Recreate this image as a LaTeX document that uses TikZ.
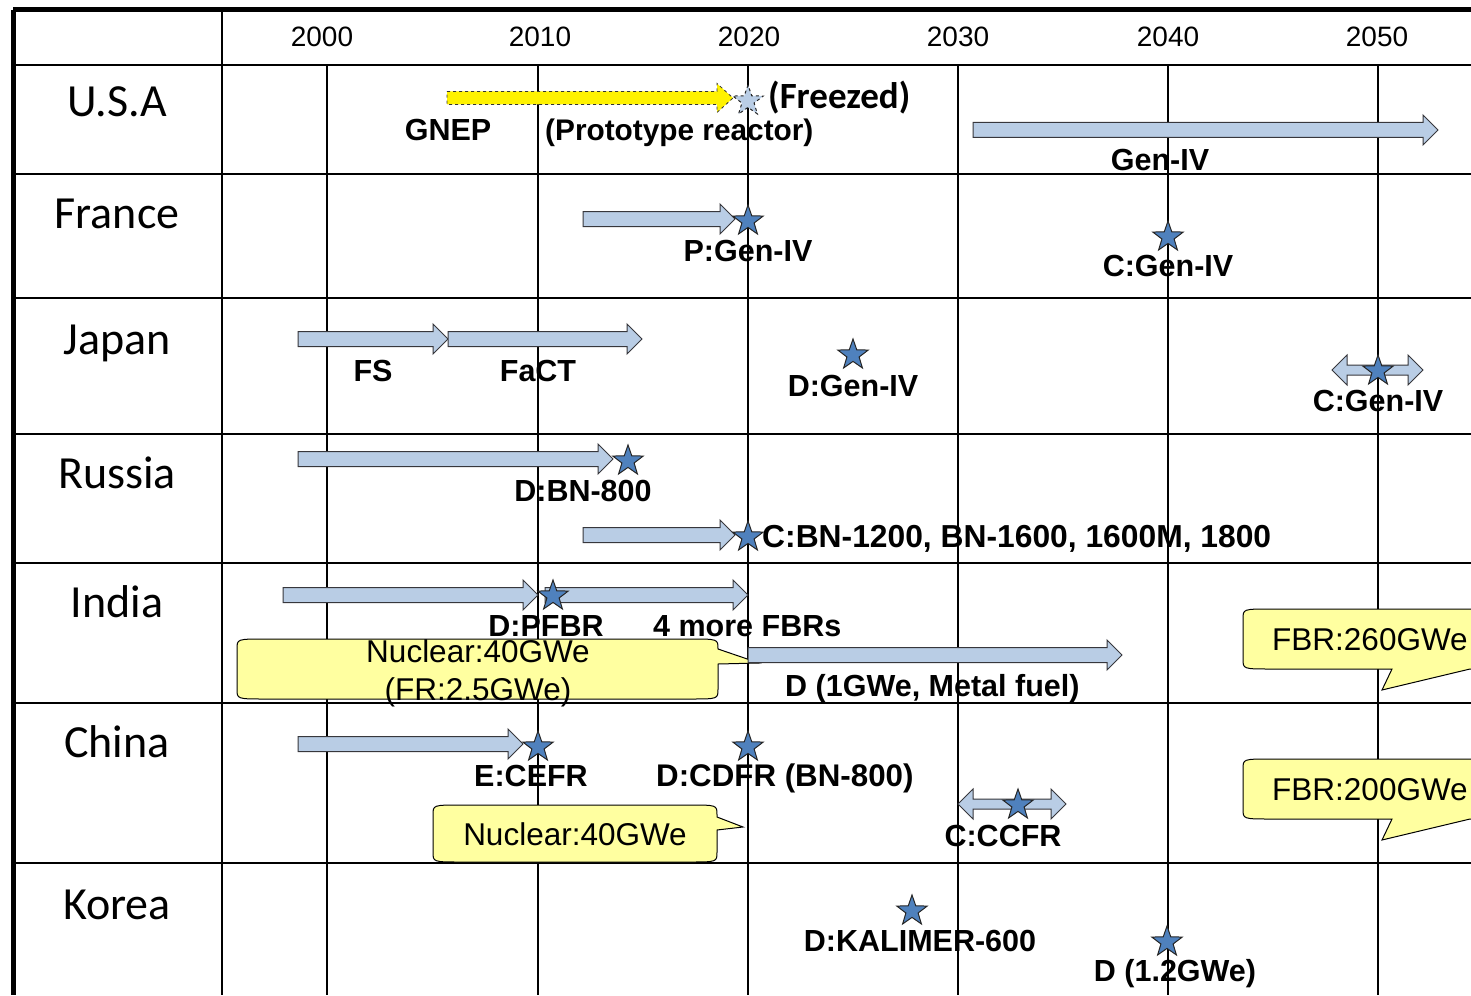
\documentclass[tikz,border=0pt]{standalone}
\usepackage{fontspec}
\setmainfont{Liberation Sans}
\newfontfamily\calibrifont{Carlito}
\usetikzlibrary{shapes.geometric}
\definecolor{arrfill}{RGB}{185,205,229}
\definecolor{arrline}{RGB}{55,55,60}
\definecolor{starfill}{RGB}{79,129,189}
\definecolor{callfill}{RGB}{255,255,160}
\newcommand{\tlarrow}[3]{%
  \filldraw[barrow] (#1,#3-7.5) -- (#2-15,#3-7.5) -- (#2-15,#3-15) -- (#2,#3) -- (#2-15,#3+15) -- (#2-15,#3+7.5) -- (#1,#3+7.5) -- cycle;}
\newcommand{\tldarrow}[3]{%
  \filldraw[barrow] (#1,#3) -- (#1+15,#3-15) -- (#1+15,#3-5) -- (#2-15,#3-5) -- (#2-15,#3-15) -- (#2,#3) -- (#2-15,#3+15) -- (#2-15,#3+5) -- (#1+15,#3+5) -- (#1+15,#3+15) -- cycle;}
\begin{document}
\begin{tikzpicture}[x=1pt,y=-1pt,
  grid/.style={line width=2pt, black},
  border/.style={line width=5pt, black},
  barrow/.style={fill=arrfill, draw=arrline, line width=1pt},
  cbox/.style={fill=callfill, draw=black, line width=1pt},
  st/.style={star, star points=5, star point ratio=2.5, minimum size=32pt, inner sep=0pt, fill=starfill, draw=black!85, line width=1pt},
  lbl/.style={font=\fontsize{30.5}{36}\selectfont\bfseries, inner sep=0pt, anchor=base, yshift=-11pt},
  lblw/.style={lbl, anchor=base west},
  cty/.style={font=\calibrifont\fontsize{46}{52}\selectfont, inner sep=0pt, anchor=base, yshift=-14.5pt},
  yr/.style={font=\fontsize{28}{32}\selectfont, inner sep=0pt, anchor=base, yshift=-10pt},
  ct/.style={font=\fontsize{31.5}{36}\selectfont, inner sep=0pt, anchor=base, yshift=-11pt},
  ctw/.style={ct, anchor=base west}]
\useasboundingbox (0,0) rectangle (1471,995);
\clip (0,0) rectangle (1471,995);
% grid
\foreach \yy in {65,174,298,434,563,703,863} \draw[grid] (13,\yy) -- (1471,\yy);
\draw[grid] (222,10) -- (222,995);
\foreach \xx in {327,538,748,958,1168,1378} \draw[grid] (\xx,65) -- (\xx,995);
\draw[border] (13,10) -- (1471,10);
\draw[border] (13,10) -- (13,995);
% years
\node[yr] (y2000) at (322,37) {2000};
\node[yr] (y2010) at (540,37) {2010};
\node[yr] (y2020) at (749,37) {2020};
\node[yr] (y2030) at (958,37) {2030};
\node[yr] (y2040) at (1168,37) {2040};
\node[yr] (y2050) at (1377,37) {2050};
% countries
\node[cty] (cUSA) at (117,102) {U.S.A};
\node[cty] (cFra) at (117,214) {France};
\node[cty] (cJap) at (117,340) {Japan};
\node[cty] (cRus) at (117,474) {Russia};
\node[cty] (cInd) at (117,603) {India};
\node[cty] (cChi) at (117,743) {China};
\node[cty] (cKor) at (117,905) {Korea};
% callouts
\draw[cbox] (265,639) -- (690,639) .. controls (718,639) .. (718,649) -- (759,663) -- (718,664) -- (718,689) .. controls (718,699) .. (690,699) -- (265,699) .. controls (237,699) .. (237,689) -- (237,649) .. controls (237,639) .. (265,639) -- cycle;
\draw[cbox] (461,805) -- (689,805) .. controls (717,805) .. (717,815) -- (717,817) -- (743,827) -- (717,830) -- (717,852) .. controls (717,862) .. (689,862) -- (461,862) .. controls (433,862) .. (433,852) -- (433,815) .. controls (433,805) .. (461,805) -- cycle;
\draw[cbox] (1271,609) -- (1500,609) -- (1500,669) -- (1470,669) -- (1382,690) -- (1392,669) -- (1271,669) .. controls (1243,669) .. (1243,659) -- (1243,619) .. controls (1243,609) .. (1271,609) -- cycle;
\draw[cbox] (1271,759) -- (1500,759) -- (1500,819) -- (1470,819) -- (1382,840) -- (1392,819) -- (1271,819) .. controls (1243,819) .. (1243,809) -- (1243,769) .. controls (1243,759) .. (1271,759) -- cycle;
% arrows
\filldraw[fill=yellow, draw=black!80, dashed, line width=0.8pt] (447,98-6.5) -- (717,98-6.5) -- (717,98-14.5) -- (733,98) -- (717,98+14.5) -- (717,98+6.5) -- (447,98+6.5) -- cycle;
\tlarrow{973}{1438}{130}
\tlarrow{583}{735}{219}
\tlarrow{298}{448}{339}
\tlarrow{448}{642}{339}
\tldarrow{1332}{1423}{370}
\tlarrow{298}{613}{459}
\tlarrow{583}{735}{535}
\tlarrow{283}{538}{595}
\tlarrow{545}{748}{595}
\tlarrow{748}{1122}{655}
\tlarrow{298}{523}{744}
\tldarrow{958}{1066}{804}
% stars
\node[st, fill=arrfill, dashed] (sUSA) at (748,101) {};
\node[st] (sFraP) at (748,221) {};
\node[st] (sFraC) at (1168,237) {};
\node[st] (sJapD) at (853,355) {};
\node[st] (sJapC) at (1378,371) {};
\node[st] (sRusD) at (628,461) {};
\node[st] (sRusC) at (748,537) {};
\node[st] (sInd) at (553,596) {};
\node[st] (sChiE) at (538,747) {};
\node[st] (sChiD) at (748,747) {};
\node[st] (sChiC) at (1018,805) {};
\node[st] (sKorD) at (912,911) {};
\node[st] (sKorD2) at (1167,942) {};
% labels
\node[lbl] (tGNEP) at (448,130) {GNEP};
\node[lblw, font=\fontsize{29.8}{36}\selectfont\bfseries] (tProto) at (545,130) {(Prototype reactor)};
\node[lblw, font=\calibrifont\fontsize{37}{42}\selectfont\bfseries] (tFreeze) at (768,98) {(Freezed)};
\node[lbl] (tGen) at (1160,160) {Gen-IV};
\node[lbl] (tFraP) at (748,250) {P:Gen-IV};
\node[lbl] (tFraC) at (1168,265) {C:Gen-IV};
\node[lbl] (tFS) at (373,370) {FS};
\node[lbl] (tFaCT) at (538,370) {FaCT};
\node[lbl] (tJapD) at (853,385) {D:Gen-IV};
\node[lbl] (tJapC) at (1378,400) {C:Gen-IV};
\node[lbl] (tRusD) at (583,490) {D:BN-800};
\node[lblw, font=\fontsize{31.8}{36}\selectfont\bfseries] (tRusC) at (762,536) {C:BN-1200, BN-1600, 1600M, 1800};
\node[lbl] (tInd) at (546,625) {D:PFBR};
\node[lblw] (tInd4) at (653,625) {4 more FBRs};
\node[lblw] (tIndD) at (785,685) {D (1GWe, Metal fuel)};
\node[lbl] (tChiE) at (531,775) {E:CEFR};
\node[lblw, font=\fontsize{31.3}{36}\selectfont\bfseries] (tChiD) at (656,775) {D:CDFR (BN-800)};
\node[lbl] (tChiC) at (1003,835) {C:CCFR};
\node[lbl] (tKorD) at (920,940) {D:KALIMER-600};
\node[lbl] (tKorD2) at (1175,970) {D (1.2GWe)};
% callout texts
\node[ct] (nInd1) at (478,651) {Nuclear:40GWe};
\node[ct] (nInd2) at (478,689) {(FR:2.5GWe)};
\node[ct] (nChi) at (575,834) {Nuclear:40GWe};
\node[ctw] (fInd) at (1272,639) {FBR:260GWe};
\node[ctw] (fChi) at (1272,789) {FBR:200GWe};
\end{tikzpicture}
\end{document}
